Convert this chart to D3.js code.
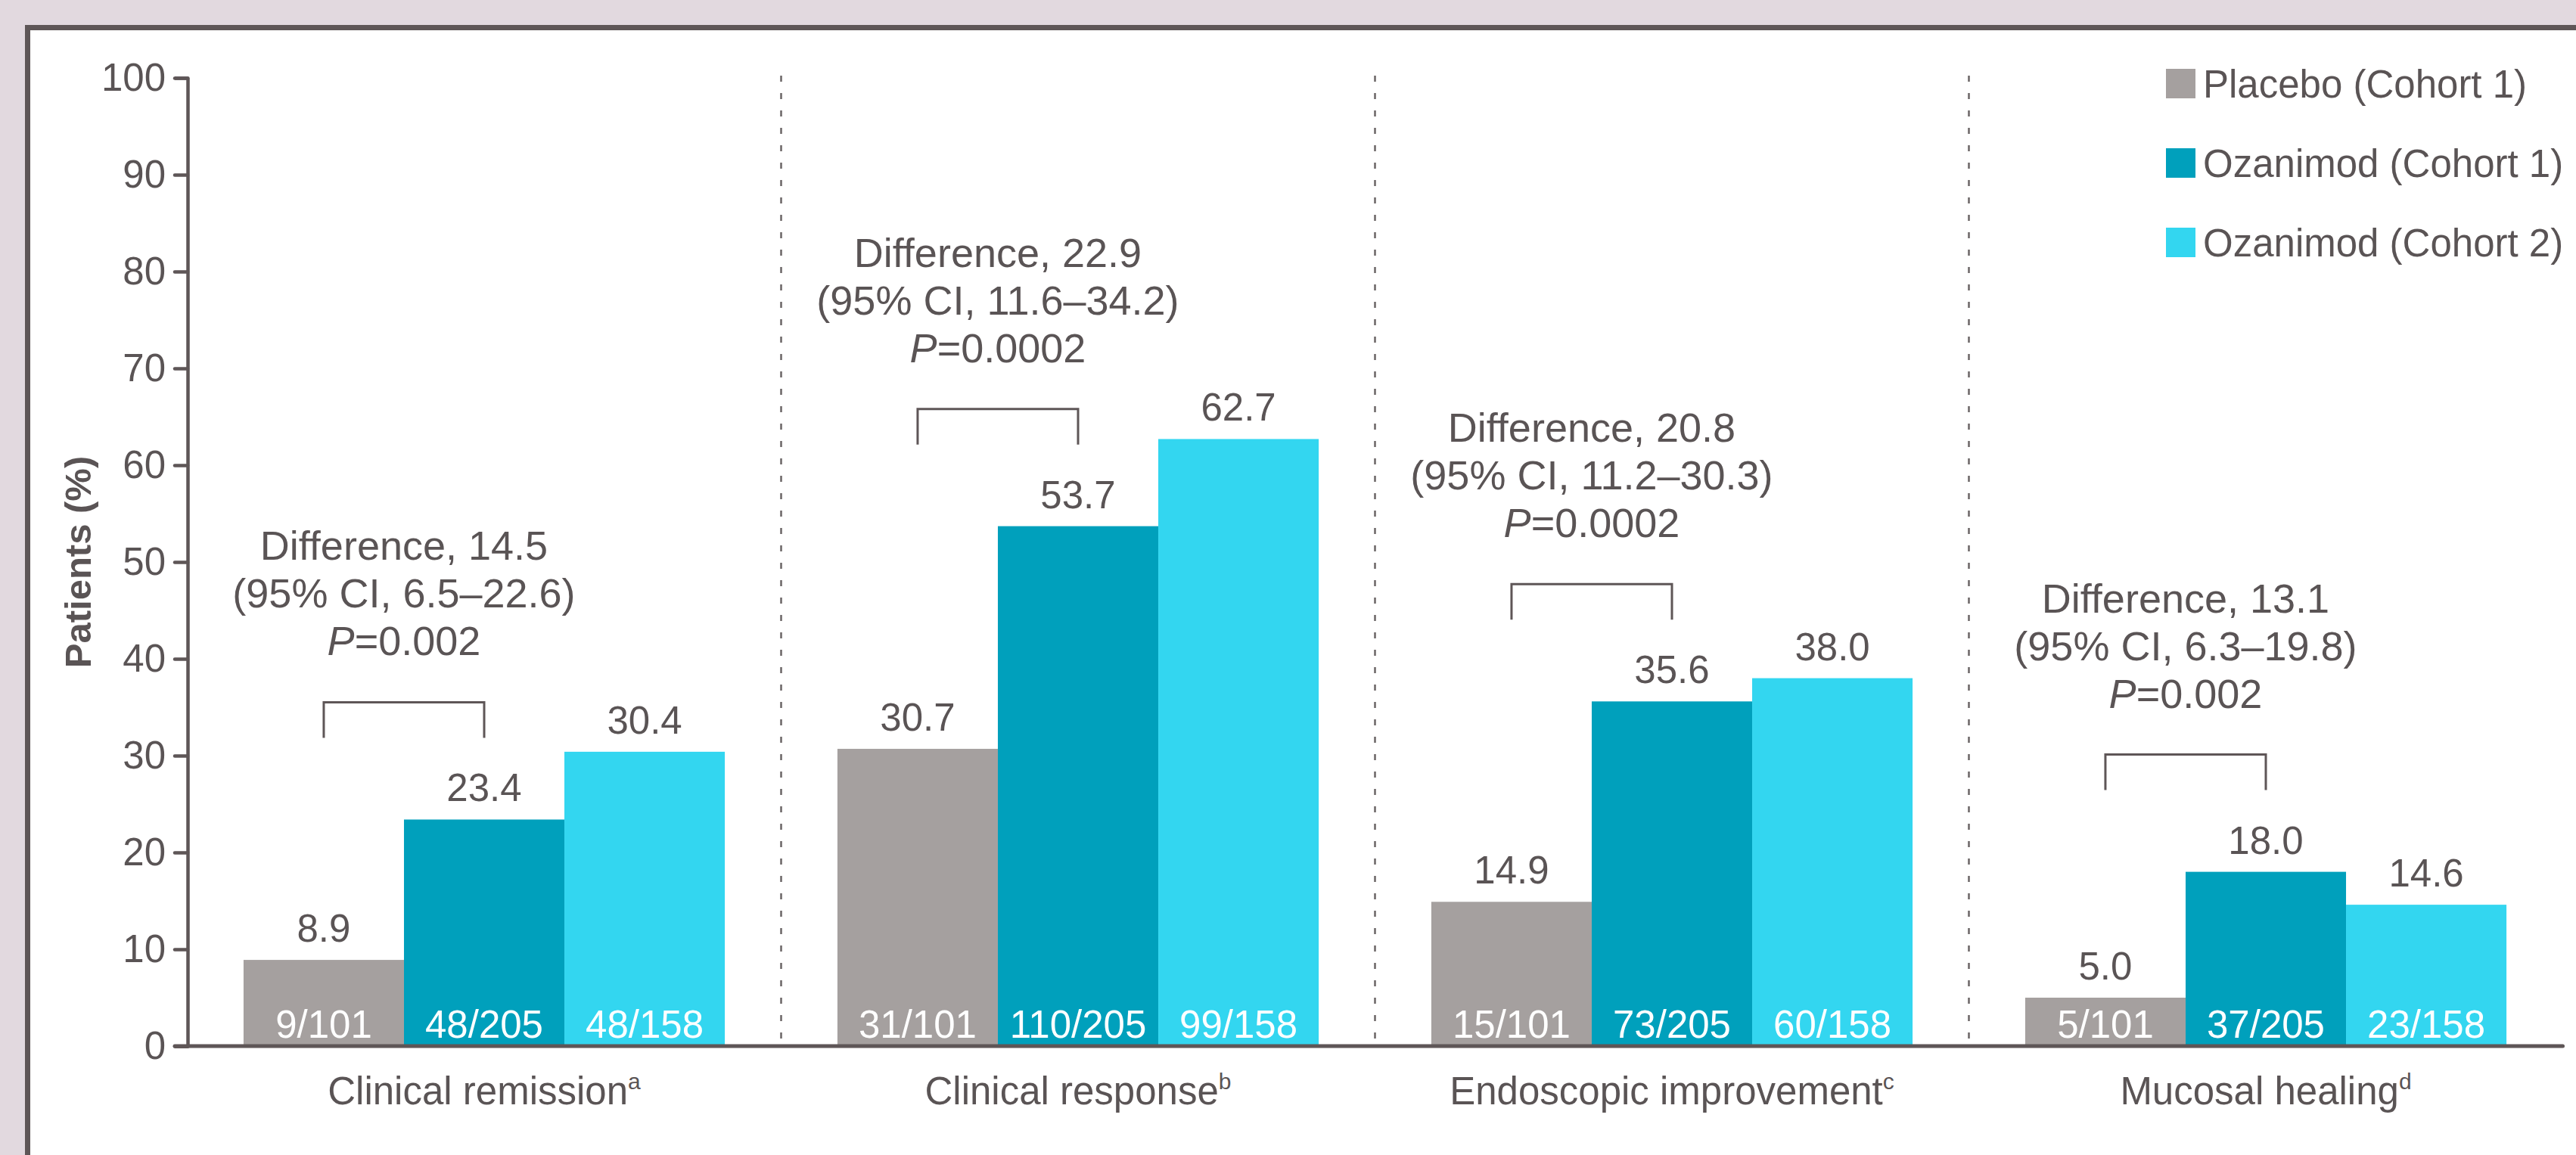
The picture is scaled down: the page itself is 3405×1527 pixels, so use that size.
<!DOCTYPE html>
<html>
<head>
<meta charset="utf-8">
<script src="https://cdn.jsdelivr.net/npm/d3@7"></script>
<style>
  html, body { margin: 0; padding: 0; background: #e2d9df; }
  svg { display: block; }
  text { font-family: "Liberation Sans", Arial, sans-serif; fill: #5a5455; }
</style>
</head>
<body>
<svg id="chart" width="3405" height="1527"></svg>
<script>
const categories = ["Clinical remission", "Clinical response", "Endoscopic improvement", "Mucosal healing"];
const footnotes = ["a", "b", "c", "d"];
const series = ["Placebo (Cohort 1)", "Ozanimod (Cohort 1)", "Ozanimod (Cohort 2)"];
const placebo = [8.9, 30.7, 14.9, 5.0];
const ozanimodC1 = [23.4, 53.7, 35.6, 18.0];
const ozanimodC2 = [30.4, 62.7, 38.0, 14.6];
const placeboN = ["9/101", "31/101", "15/101", "5/101"];
const ozanimodC1N = ["48/205", "110/205", "73/205", "37/205"];
const ozanimodC2N = ["48/158", "99/158", "60/158", "23/158"];
const differences = ["14.5", "22.9", "20.8", "13.1"];
const ciRanges = ["6.5\u201322.6", "11.6\u201334.2", "11.2\u201330.3", "6.3\u201319.8"];
const pValues = ["0.002", "0.0002", "0.0002", "0.002"];
const yTicks = [0, 10, 20, 30, 40, 50, 60, 70, 80, 90, 100];

const colors = d3.scaleOrdinal().domain(series).range(["#a5a09f", "#00a0bc", "#33d6f0"]);
const ink = "#5e5657";
const fontSize = 51;

const svg = d3.select("#chart");

// frame: pinkish margin, white panel with a dark top/left border
svg.append("rect").attr("x", 40).attr("y", 40).attr("width", 3365).attr("height", 1487).attr("fill", "#fff");
svg.append("path")
  .attr("d", "M36.5,1527V36.5H3405")
  .attr("fill", "none")
  .attr("stroke", ink)
  .attr("stroke-width", 7);

const x0 = d3.scaleBand().domain(categories).range([247.5, 3387.5]);
const x1 = d3.scaleBand().domain(series).range([0, x0.bandwidth()]).paddingOuter(0.351);
const y = d3.scaleLinear().domain([0, 100]).range([1383, 103]);

// rows per category
const rows = categories.map((c, i) => ({
  category: c,
  note: footnotes[i],
  values: [
    { key: series[0], value: placebo[i], n: placeboN[i] },
    { key: series[1], value: ozanimodC1[i], n: ozanimodC1N[i] },
    { key: series[2], value: ozanimodC2[i], n: ozanimodC2N[i] },
  ],
  diff: differences[i],
  ci: ciRanges[i],
  p: pValues[i],
}));

// dashed separators between categories
svg.append("g")
  .selectAll("line")
  .data(categories.slice(1))
  .join("line")
  .attr("x1", (d) => x0(d))
  .attr("x2", (d) => x0(d))
  .attr("y1", y(100) - 3)
  .attr("y2", y(0))
  .attr("stroke", "#6b6566")
  .attr("stroke-width", 2.5)
  .attr("stroke-dasharray", "8,15");

const groups = svg.append("g")
  .selectAll("g.cat")
  .data(rows)
  .join("g")
  .attr("class", "cat")
  .attr("transform", (d) => `translate(${x0(d.category)},0)`);

groups.selectAll("rect")
  .data((d) => d.values)
  .join("rect")
  .attr("x", (d) => x1(d.key))
  .attr("width", x1.bandwidth())
  .attr("y", (d) => y(d.value))
  .attr("height", (d) => y(0) - y(d.value))
  .attr("fill", (d) => colors(d.key));

// value above bar
groups.selectAll("text.val")
  .data((d) => d.values)
  .join("text")
  .attr("class", "val")
  .attr("x", (d) => x1(d.key) + x1.bandwidth() / 2)
  .attr("y", (d) => y(d.value) - 24)
  .attr("text-anchor", "middle")
  .style("font-size", fontSize + "px")
  .text((d) => d3.format(".1f")(d.value));

// n/N inside bar
groups.selectAll("text.n")
  .data((d) => d.values)
  .join("text")
  .attr("class", "n")
  .attr("x", (d) => x1(d.key) + x1.bandwidth() / 2)
  .attr("y", y(0) - 11)
  .attr("text-anchor", "middle")
  .style("font-size", fontSize + "px")
  .style("fill", "#fff")
  .text((d) => d.n);

// category label with superscript
const catLabel = groups.append("text")
  .attr("x", x0.bandwidth() / 2)
  .attr("y", 1460)
  .attr("text-anchor", "middle")
  .style("font-size", fontSize + "px");
catLabel.append("tspan").text((d) => d.category);
catLabel.append("tspan")
  .attr("dy", -20)
  .style("font-size", "30px")
  .text((d) => d.note);

// bracket + difference annotation
const bracketH = 47;
const bracketTop = (d) => y(Math.max(d.values[0].value, d.values[1].value)) - 108 - bracketH;
const bxA = x1(series[0]) + x1.bandwidth() / 2;
const bxB = x1(series[1]) + x1.bandwidth() / 2;

groups.append("path")
  .attr("d", (d) => {
    const t = bracketTop(d);
    return `M${bxA},${t + bracketH}V${t}H${bxB}V${t + bracketH}`;
  })
  .attr("fill", "none")
  .attr("stroke", ink)
  .attr("stroke-width", 3);

const ann = groups.append("text")
  .attr("text-anchor", "middle")
  .style("font-size", "54px");
ann.append("tspan")
  .attr("x", (bxA + bxB) / 2)
  .attr("y", (d) => bracketTop(d) - 62 - 126)
  .text((d) => `Difference, ${d.diff}`);
ann.append("tspan")
  .attr("x", (bxA + bxB) / 2)
  .attr("y", (d) => bracketTop(d) - 62 - 63)
  .text((d) => `(95% CI, ${d.ci})`);
const pLine = ann.append("tspan")
  .attr("x", (bxA + bxB) / 2)
  .attr("y", (d) => bracketTop(d) - 62);
pLine.append("tspan").style("font-style", "italic").text("P");
pLine.append("tspan").text((d) => `=${d.p}`);

// y axis
const yAxis = svg.append("g")
  .attr("transform", "translate(248,0)")
  .call(d3.axisLeft(y).tickValues(yTicks).tickSize(17).tickPadding(12));
yAxis.select(".domain").attr("stroke", ink).attr("stroke-width", 4.5).attr("stroke-linejoin", "round");
yAxis.selectAll(".tick line").attr("stroke", ink).attr("stroke-width", 4.5).attr("stroke-linecap", "round");
yAxis.selectAll(".tick text")
  .attr("fill", "#5a5455")
  .style("font-family", '"Liberation Sans", Arial, sans-serif')
  .style("font-size", fontSize + "px");

// baseline
svg.append("line")
  .attr("x1", 231)
  .attr("x2", x0.range()[1])
  .attr("y1", y(0))
  .attr("y2", y(0))
  .attr("stroke", ink)
  .attr("stroke-width", 5)
  .attr("stroke-linecap", "round");

svg.append("text")
  .attr("transform", `translate(120,${(y(0) + y(100)) / 2}) rotate(-90)`)
  .attr("text-anchor", "middle")
  .style("font-size", "49px")
  .style("font-weight", "bold")
  .text("Patients (%)");

// legend
const legend = svg.append("g")
  .selectAll("g")
  .data(series)
  .join("g")
  .attr("transform", (d, i) => `translate(2863,${91 + i * 105})`);
legend.append("rect")
  .attr("width", 39)
  .attr("height", 39)
  .attr("fill", (d) => colors(d));
legend.append("text")
  .attr("x", 49)
  .attr("y", 38)
  .style("font-size", "51px")
  .text((d) => d);
</script>
</body>
</html>
